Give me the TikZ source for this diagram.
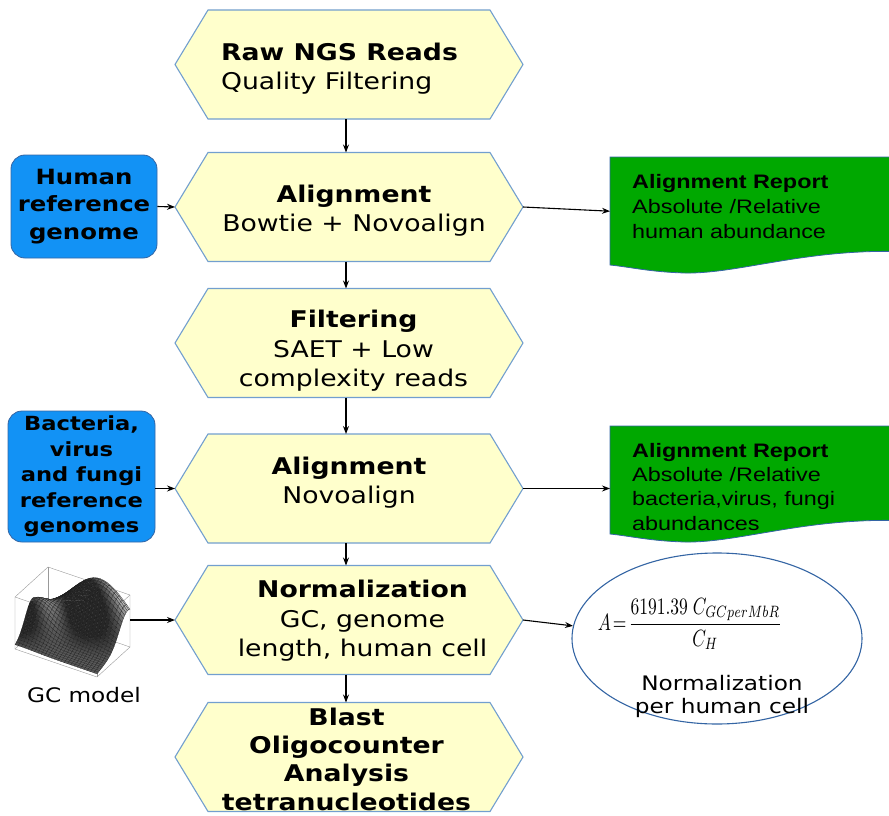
\documentclass[tikz,border=0pt]{standalone}
\usepackage[no-math]{fontspec}
\usepackage{graphicx}
\setmainfont{DejaVu Sans}[FakeStretch=1.16]
\newfontfamily\reportfont{Liberation Sans}[FakeStretch=1.2]
\usetikzlibrary{arrows.meta,shapes.geometric}

\definecolor{hexfill}{HTML}{FFFFCC}
\definecolor{hexedge}{HTML}{729FCF}
\definecolor{refblue}{HTML}{1292F5}
\definecolor{refedge}{HTML}{3465A4}
\definecolor{reportgreen}{HTML}{00A800}

% outline of a process step around an (invisible) rectangular node
\newcommand\hexoutline[1]{%
  \filldraw[hexline] (#1.west) -- ([xshift=33pt]#1.north west)
    -- ([xshift=-33pt]#1.north east) -- (#1.east)
    -- ([xshift=-33pt]#1.south east) -- ([xshift=33pt]#1.south west) -- cycle;}

% report sheet with a wavy lower edge, hung on a rectangular node
\newcommand\reportsheet[1]{%
  \begin{scope}[shift={(#1.north west)}]
    \filldraw[fill=reportgreen, draw=refedge, line width=0.8pt]
      (0,0) -- (300,0) -- (300,95)
      .. controls (200,90) and (130,117) .. (75,116)
      .. controls (40,115) and (20,110) .. (0,108) -- cycle;
  \end{scope}}

% projected point of the GC surface for parameters (u,v)
\newcommand\gcpt[2]{({97-82*(#1)+33*(#2)},{677-28*(#1)-30*(#2)-52*gcf(#1,#2)})}

\begin{document}
\begin{tikzpicture}[x=1pt, y=-1pt,
  hexbox/.style={rectangle, minimum width=348pt, minimum height=109pt,
    inner sep=0pt, outer sep=0pt},
  hexline/.style={fill=hexfill, draw=hexedge, line width=1.1pt},
  steptext/.style={font=\fontsize{23}{29.5}\selectfont, align=center, inner sep=0pt},
  refbox/.style={rectangle, rounded corners=14pt, fill=refblue, draw=refedge,
    line width=0.8pt, inner sep=0pt, align=center},
  report/.style={rectangle, minimum width=290pt, minimum height=108pt,
    inner sep=0pt, anchor=north west},
  reporttext/.style={align=left, inner sep=0pt, anchor=north west},
  flow/.style={-{Stealth[length=8pt,width=6pt]}, line width=1.1pt, black},
  gcbox/.style={black!40, line width=0.4pt},
  declare function={gcf(\a,\b)=0.06+0.75*exp(-7*((\a-0.45)^2+(\b-0.95)^2))
    +0.5*exp(-12*((\a-0.95)^2+(\b-0.5)^2))
    +0.35*exp(-10*((\a-0.1)^2+(\b-0.9)^2))+0.2*\b;}]

\useasboundingbox (0,0) rectangle (889,816);
\clip (0,0) rectangle (889,816);

% ---- process steps
\node[hexbox] (h1) at (349,64.5) {};
\node[hexbox] (h2) at (349,207) {};
\node[hexbox] (h3) at (349,343) {};
\node[hexbox] (h4) at (349,488.5) {};
\node[hexbox] (h5) at (349,620) {};
\node[hexbox] (h6) at (349,757) {};
\foreach \h in {h1,h2,h3,h4,h5,h6} {\hexoutline{\h}}

\node[steptext, align=left] (h1t) at (339.5,68.5)
  {\textbf{Raw NGS Reads}\\Quality Filtering};
\node[steptext] (h2t) at (354,210.5)
  {\textbf{Alignment}\\Bowtie + Novoalign};
\node[steptext] (h3t) at (353.5,351)
  {\textbf{Filtering}\\SAET + Low\\complexity reads};
\node[steptext] (h4t) at (349,482.5)
  {\textbf{Alignment}\\Novoalign};
\node[steptext] (h5t) at (362.5,621)
  {\textbf{Normalization}\\GC, genome\\length, human cell};
\node[steptext, font=\fontsize{23}{28.3}\selectfont\bfseries] (h6t) at (346.5,759)
  {Blast\\Oligocounter\\Analysis\\tetranucleotides};

% ---- reference inputs
\node[refbox, minimum width=146pt, minimum height=103pt,
  font=\fontsize{21}{27.5}\selectfont\bfseries] (hb) at (84,206.5)
  {Human\\reference\\genome};
\node[refbox, minimum width=147pt, minimum height=131pt,
  font=\fontsize{19.5}{25.5}\selectfont\bfseries] (bb) at (81.5,476.5)
  {Bacteria,\\virus\\and fungi\\reference\\genomes};

% ---- reports
\node[report] (g1) at (610,157) {};
\node[report] (g2) at (610,426) {};
\reportsheet{g1}
\reportsheet{g2}
\node[reporttext, font=\reportfont\fontsize{19.5}{25}\selectfont] (g1t) at (632,174)
  {\textbf{Alignment Report}\\Absolute /Relative\\human abundance};
\node[reporttext, font=\reportfont\fontsize{19.5}{24.3}\selectfont] (g2t) at (632,443)
  {\textbf{Alignment Report}\\Absolute /Relative\\bacteria,virus, fungi\\abundances};

% ---- normalisation formula
\node[ellipse, draw=refedge, line width=1.1pt, fill=white, minimum width=290pt,
  minimum height=171pt, inner sep=0pt] (ov) at (717,638.5) {};
\node[inner sep=0pt] (fm) at (690,624)
  {\scalebox{1.75}[2.35]{$\displaystyle A\!=\!\frac{6191.39\;C_{GCperMbR}}{C_H}$}};
\node[steptext, font=\fontsize{20}{23}\selectfont] (ovt) at (722,696)
  {Normalization\\per human cell};

% ---- GC model surface plot (quads shaded by their slope)
\draw[gcbox] (97,677) -- (15,649) -- (15,597) -- (48,567) -- (130,595) -- (130,647) -- cycle;
\draw[gcbox] (15,597) -- (97,625) -- (130,595);
\draw[gcbox] (97,625) -- (97,677);
\draw[gcbox] (15,649) -- (48,619) -- (130,647);
\draw[gcbox] (48,619) -- (48,567);
\foreach \i in {24,23,...,0} {
  \foreach \j in {24,23,...,0} {
    \pgfmathsetmacro\ua{\i/25}
    \pgfmathsetmacro\ub{(\i+1)/25}
    \pgfmathsetmacro\va{\j/25}
    \pgfmathsetmacro\vb{(\j+1)/25}
    \pgfmathsetmacro\shade{max(25,min(85,60+500*(gcf(\ua,\vb)-gcf(\ub,\va))))}
    \filldraw[fill=black!\shade, draw=black!90, line width=0.15pt]
      \gcpt{\ua}{\va} -- \gcpt{\ub}{\va}
      -- \gcpt{\ub}{\vb} -- \gcpt{\ua}{\vb} -- cycle;
  }
}
\coordinate (gcout) at (130,620);
\node[steptext, font=\fontsize{20}{23}\selectfont] (gcl) at (84,695.5) {GC model};

% ---- connectors
\draw[flow] ([xshift=-3pt]h1.south) -- ([xshift=-3pt]h2.north);
\draw[flow] ([xshift=-3pt]h2.south) -- ([xshift=-3pt]h3.north);
\draw[flow] ([xshift=-3pt]h3.south) -- ([xshift=-3pt]h4.north);
\draw[flow] ([xshift=-3pt]h4.south) -- ([xshift=-3pt]h5.north);
\draw[flow] ([xshift=-3pt]h5.south) -- ([xshift=-3pt]h6.north);
\draw[flow] (hb.east) -- (h2.west);
\draw[flow] (bb.east |- h4.west) -- (h4.west);
\draw[flow] (h2.east) -- (g1.west);
\draw[flow] (h4.east) -- (h4.east -| g2.west);
\draw[flow] (gcout) -- (h5.west);
\draw[flow] (h5.east) -- (ov.175);
\end{tikzpicture}
\end{document}
